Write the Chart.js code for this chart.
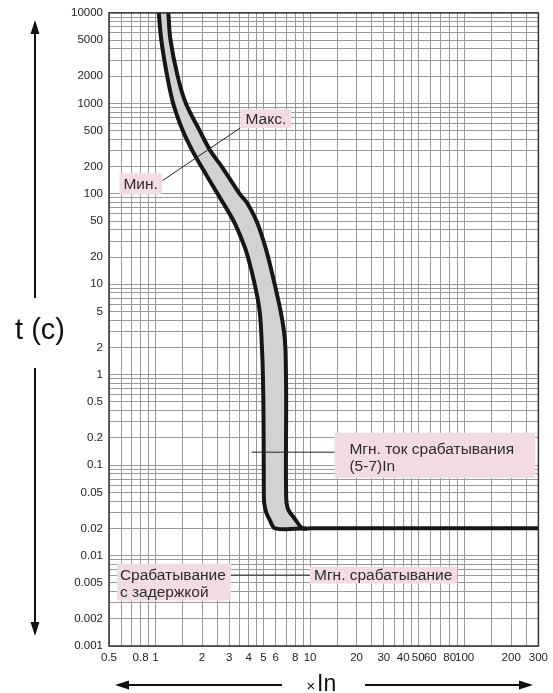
<!DOCTYPE html>
<html>
<head>
<meta charset="utf-8">
<script src="https://cdn.jsdelivr.net/npm/chart.js@4.4.1/dist/chart.umd.min.js"></script>
<style>
  html, body { margin: 0; padding: 0; background: #fff; }
  #wrap { width: 553px; height: 693px; }
</style>
</head>
<body>
<div id="wrap"><canvas id="tripChart" width="553" height="693"></canvas></div>
<script>
// Time-current characteristic, t (s) against multiples of In

// lower edge of the tripping band
const minCurveX = [1.05, 1.09, 1.19, 1.30, 1.50, 1.73, 1.98, 2.52, 3.20, 3.65, 3.96, 4.38, 4.72, 4.88, 4.95, 5.0, 5.02, 5.05, 5.2, 5.48, 5.95, 9.5];
const minCurveY = [10000, 5000, 2000, 1000, 500, 300, 200, 100, 50, 30, 20, 10, 5, 2, 1, 0.3, 0.05, 0.038, 0.030, 0.0248, 0.02, 0.02];

// upper edge, runs on into the instantaneous line
const maxCurveX = [1.21, 1.25, 1.39, 1.57, 1.93, 2.26, 2.68, 3.50, 3.90, 4.50, 5.00, 5.35, 5.90, 6.45, 6.78, 6.92, 6.98, 7.0, 7.0, 7.2, 7.87, 8.94, 10, 300];
const maxCurveY = [10000, 5000, 2000, 1000, 500, 300, 200, 100, 80, 50, 30, 20, 10, 5, 3, 2, 1, 0.5, 0.045, 0.0325, 0.0262, 0.02, 0.02, 0.02];

// grid lines inside each decade
const xGridSteps = [1, 1.5, 2, 2.5, 3, 3.5, 4, 4.5, 5, 6, 7, 8, 9];
const yGridSteps = [1, 2, 3, 4, 5, 6, 7, 8, 9];

// labelled ticks
const xTickLabels = [0.5, 0.8, 1, 2, 3, 4, 5, 6, 8, 10, 20, 30, 40, 50, 60, 80, 100, 200, 300];
const yTickLabels = [0.001, 0.002, 0.005, 0.01, 0.02, 0.05, 0.1, 0.2, 0.5, 1, 2, 5, 10, 20, 50, 100, 200, 500, 1000, 2000, 5000, 10000];

const FONT = '"Liberation Sans", Arial, Helvetica, sans-serif';

function gridValues(steps, min, max) {
    const out = [];
    for (let e = Math.floor(Math.log10(min)); e <= Math.ceil(Math.log10(max)); e++) {
        steps.forEach(s => {
            const v = +(s * Math.pow(10, e)).toPrecision(6);
            if (v >= min && v <= max) out.push(v);
        });
    }
    return out;
}

function isLabelled(v, list) {
    return list.some(l => Math.abs(v / l - 1) < 1e-6);
}

const toPoints = (xs, ys) => xs.map((x, i) => ({ x: x, y: ys[i] }));

const minPoints = toPoints(minCurveX, minCurveY);
const maxPoints = toPoints(maxCurveX, maxCurveY);

// closed outline of the band: min edge down, max edge back up
const bandPoints = minPoints.concat(maxPoints.slice(0, -2).reverse());

// text boxes: anchor is text left / first line centre, in data units
const notes = [
    { lines: ['Макс.'], x: 3.82, y: 675, pad: [5, 5, 1, 1] },
    { lines: ['Мин.'], x: 0.62, y: 129, pad: [4, 4, 2, 2] },
    { lines: ['Мгн. ток срабатывания', '(5-7)In'], x: 17.97, y: 0.1535, pad: [15, 21, 7, 4] },
    { lines: ['Срабатывание', 'с задержкой'], x: 0.588, y: 0.00608, pad: [3, 5, 3, 0] },
    { lines: ['Мгн. срабатывание'], x: 10.6, y: 0.00608, pad: [4, 5, 0, 0] }
];

// leader lines [x1, y1, x2, y2]
const leaders = [
    [1.11, 140, 3.55, 537],
    [4.18, 0.139, 16, 0.139],
    [2.5, 0.00608, 11, 0.00608]
];

const annotate = {
    id: 'annotate',
    afterDatasetsDraw(chart) {
        const { ctx, scales: { x, y } } = chart;
        ctx.save();

        ctx.strokeStyle = '#222';
        ctx.lineWidth = 1;
        leaders.forEach(l => {
            ctx.beginPath();
            ctx.moveTo(x.getPixelForValue(l[0]), y.getPixelForValue(l[1]));
            ctx.lineTo(x.getPixelForValue(l[2]), y.getPixelForValue(l[3]));
            ctx.stroke();
        });

        const lh = 17;
        ctx.font = '15.5px ' + FONT;
        ctx.textBaseline = 'middle';
        ctx.textAlign = 'left';
        notes.forEach(n => {
            const px = x.getPixelForValue(n.x);
            const py = y.getPixelForValue(n.y);
            const w = Math.max(...n.lines.map(t => ctx.measureText(t).width));
            const top = py - lh / 2 - n.pad[2];
            const h = lh * n.lines.length + n.pad[2] + n.pad[3];
            ctx.fillStyle = '#f2dce2';
            ctx.fillRect(px - n.pad[0], top, w + n.pad[0] + n.pad[1], h);
            ctx.fillStyle = '#2b2b2b';
            n.lines.forEach((t, i) => ctx.fillText(t, px, py + i * lh + 1));
        });
        ctx.restore();
    },
    afterDraw(chart) {
        const { ctx, chartArea: a } = chart;
        ctx.save();

        // frame
        ctx.strokeStyle = '#333';
        ctx.lineWidth = 1.5;
        ctx.strokeRect(a.left, a.top, a.right - a.left, a.bottom - a.top);

        ctx.strokeStyle = '#111';
        ctx.fillStyle = '#111';
        ctx.lineWidth = 2;

        const head = (tx, ty, dx, dy) => {
            // arrowhead pointing along (dx, dy)
            const len = 14, half = 4.5;
            ctx.beginPath();
            ctx.moveTo(tx, ty);
            ctx.lineTo(tx - dx * len - dy * half, ty - dy * len - dx * half);
            ctx.lineTo(tx - dx * len + dy * half, ty - dy * len + dx * half);
            ctx.closePath();
            ctx.fill();
        };
        const line = (x1, y1, x2, y2) => {
            ctx.beginPath();
            ctx.moveTo(x1, y1);
            ctx.lineTo(x2, y2);
            ctx.stroke();
        };

        // time axis
        const ax = 35;
        line(ax, 30, ax, 298);
        head(ax, 20, 0, -1);
        line(ax, 368, ax, 626);
        head(ax, 636, 0, 1);
        ctx.textAlign = 'center';
        ctx.textBaseline = 'middle';
        ctx.font = '29px ' + FONT;
        ctx.fillText('t (c)', 40, 331);

        // current axis
        const ay = 685;
        line(125, ay, 282, ay);
        head(115, ay, -1, 0);
        line(365, ay, 523, ay);
        head(533, ay, 1, 0);
        ctx.font = '15px ' + FONT;
        ctx.fillText('×', 311, ay + 2);
        ctx.textAlign = 'left';
        ctx.font = '23px ' + FONT;
        ctx.fillText('In', 317, ay);

        ctx.restore();
    }
};

const tickFont = { family: FONT, size: 11.5 };

new Chart(document.getElementById('tripChart'), {
    type: 'line',
    data: {
        datasets: [
            {
                data: minPoints,
                borderColor: '#161616',
                borderWidth: 4,
                pointRadius: 0,
                tension: 0.35,
                fill: false,
                order: 1
            },
            {
                data: maxPoints,
                borderColor: '#161616',
                borderWidth: 4,
                pointRadius: 0,
                tension: 0.35,
                fill: false,
                order: 1
            },
            {
                data: bandPoints,
                borderColor: 'rgba(0,0,0,0)',
                borderWidth: 0,
                backgroundColor: '#d2d2d4',
                pointRadius: 0,
                tension: 0.35,
                fill: 'shape',
                order: 3
            }
        ]
    },
    options: {
        responsive: false,
        animation: false,
        layout: { padding: { top: 12, right: 10, bottom: 0, left: 0 } },
        plugins: {
            legend: { display: false },
            tooltip: { enabled: false }
        },
        scales: {
            x: {
                type: 'logarithmic',
                min: 0.5,
                max: 300,
                afterBuildTicks: s => { s.ticks = gridValues(xGridSteps, 0.5, 300).map(v => ({ value: v })); },
                afterFit: s => { s.height = 47; },
                border: { display: false },
                grid: { color: '#999', lineWidth: 1, drawTicks: false },
                ticks: {
                    autoSkip: false,
                    maxRotation: 0,
                    padding: 5,
                    color: '#222',
                    font: tickFont,
                    callback: v => isLabelled(v, xTickLabels) ? String(v) : ''
                }
            },
            y: {
                type: 'logarithmic',
                min: 0.001,
                max: 10000,
                afterBuildTicks: s => { s.ticks = gridValues(yGridSteps, 0.001, 10000).map(v => ({ value: v })); },
                afterFit: s => { s.width = 109; },
                border: { display: false },
                grid: { color: '#999', lineWidth: 1, drawTicks: false },
                ticks: {
                    autoSkip: false,
                    padding: 6,
                    color: '#222',
                    font: tickFont,
                    callback: v => isLabelled(v, yTickLabels) ? String(v) : ''
                }
            }
        }
    },
    plugins: [annotate]
});
</script>
</body>
</html>
